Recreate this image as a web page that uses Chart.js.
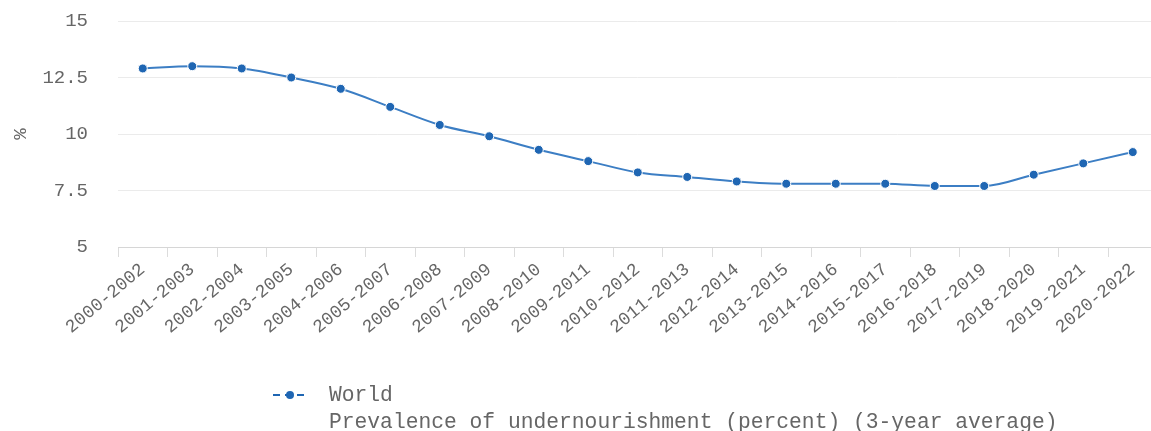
<!DOCTYPE html>
<html>
<head>
<meta charset="utf-8">
<script src="https://cdn.jsdelivr.net/npm/chart.js@4"></script>
<style>
  html, body { margin: 0; padding: 0; background: #fff; overflow: hidden; }
  #wrap { position: absolute; left: 0; top: 0; width: 1163px; height: 431px; }
</style>
</head>
<body>
<div id="wrap"><canvas id="lineChart"></canvas></div>
<script>
// data
const periods = ['2000-2002', '2001-2003', '2002-2004', '2003-2005', '2004-2006', '2005-2007',
    '2006-2008', '2007-2009', '2008-2010', '2009-2011', '2010-2012', '2011-2013', '2012-2014',
    '2013-2015', '2014-2016', '2015-2017', '2016-2018', '2017-2019', '2018-2020', '2019-2021', '2020-2022'];
const worldValues = [12.9, 13.0, 12.9, 12.5, 12.0, 11.2, 10.4, 9.9, 9.3, 8.8, 8.3, 8.1, 7.9,
    7.8, 7.8, 7.8, 7.7, 7.7, 8.2, 8.7, 9.2];
const seriesName = 'World';
const seriesNote = 'Prevalence of undernourishment (percent) (3-year average)';
const yTitle = '%';

const lineColor = '#3c7ec4';
const dotColor = '#1f66b3';
const textColor = '#666666';
const fontFamily = "'Liberation Mono', monospace";

// legend drawn by hand so the note can sit on a second line
const bottomLegend = {
    id: 'bottomLegend',
    afterDraw(chart) {
        const ctx = chart.ctx;
        const y1 = 395;
        ctx.save();
        ctx.strokeStyle = dotColor;
        ctx.lineWidth = 2;
        ctx.setLineDash([7, 5]);
        ctx.beginPath();
        ctx.moveTo(273, y1);
        ctx.lineTo(306, y1);
        ctx.stroke();
        ctx.setLineDash([]);
        ctx.fillStyle = dotColor;
        ctx.beginPath();
        ctx.arc(290, y1, 4, 0, Math.PI * 2);
        ctx.fill();
        ctx.fillStyle = textColor;
        ctx.font = '21.3px ' + fontFamily;
        ctx.textBaseline = 'middle';
        ctx.textAlign = 'left';
        ctx.fillText(seriesName, 329, y1);
        ctx.fillText(seriesNote, 329, y1 + 27);
        ctx.restore();
    }
};

const chart = new Chart(document.getElementById('lineChart'), {
    type: 'line',
    data: {
        labels: periods,
        datasets: [{
            label: seriesName,
            data: worldValues,
            borderColor: lineColor,
            borderWidth: 2,
            backgroundColor: dotColor,
            pointBackgroundColor: dotColor,
            pointBorderColor: '#ffffff',
            pointBorderWidth: 1,
            pointRadius: 4.5,
            cubicInterpolationMode: 'monotone',
            fill: false
        }]
    },
    options: {
        responsive: true,
        maintainAspectRatio: false,
        animation: false,
        layout: { padding: { top: 21, left: 0, right: 0, bottom: 0 } },
        plugins: {
            legend: { display: false },
            tooltip: { enabled: false }
        },
        scales: {
            x: {
                offset: true,
                afterFit: (s) => { s.height = 184; },
                grid: {
                    drawOnChartArea: false,
                    drawTicks: true,
                    tickLength: 10,
                    color: '#dcdcdc',
                    offset: true
                },
                border: { display: true, color: '#d6d6d6' },
                ticks: {
                    autoSkip: false,
                    minRotation: 40,
                    maxRotation: 40,
                    padding: 2,
                    color: textColor,
                    font: { family: fontFamily, size: 18 }
                }
            },
            y: {
                min: 5,
                max: 15,
                afterFit: (s) => { s.width = 118; },
                grid: {
                    color: '#ebebeb',
                    drawTicks: true,
                    tickLength: 30,
                    tickColor: 'rgba(0,0,0,0)'
                },
                border: { display: false },
                ticks: {
                    stepSize: 2.5,
                    padding: 0,
                    color: textColor,
                    font: { family: fontFamily, size: 19 }
                },
                title: {
                    display: true,
                    text: yTitle,
                    color: textColor,
                    padding: { top: 10, bottom: 0 },
                    font: { family: fontFamily, size: 19 }
                }
            }
        }
    },
    plugins: [bottomLegend]
});
</script>
</body>
</html>
